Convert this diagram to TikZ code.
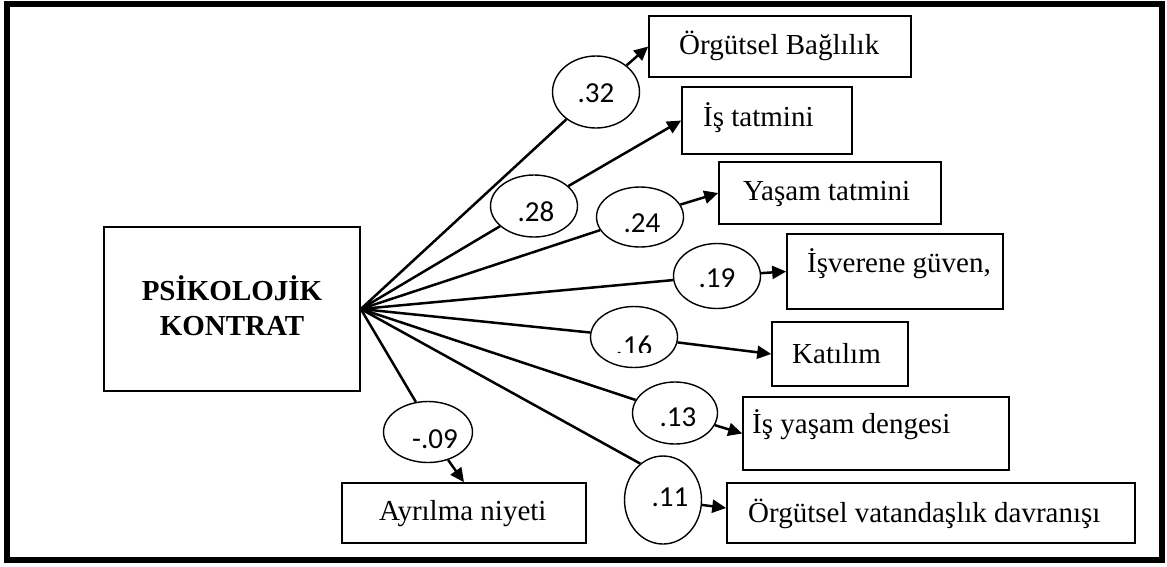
\documentclass[tikz,border=0pt]{standalone}
\usepackage{fontspec}
\setmainfont{Liberation Serif}
\newfontfamily\numfont{Carlito}
\usetikzlibrary{shapes.geometric,arrows.meta}
\begin{document}
\begin{tikzpicture}[x=1pt,y=-1pt,
  frame/.style={draw, line width=6pt},
  box/.style={draw, line width=1.6pt, rectangle, inner sep=0pt},
  oval/.style={draw, line width=1.4pt, ellipse, inner sep=0pt},
  conn/.style={line width=2.5pt},
  arr/.style={line width=2.5pt, -{Triangle[length=14pt,width=13pt]}},
  lbl/.style={font=\fontsize{29}{34}\selectfont, inner sep=0pt, anchor=base west},
  title/.style={font=\bfseries\fontsize{29}{34}\selectfont, inner sep=0pt, anchor=base},
  num/.style={font=\numfont\fontsize{29}{34}\selectfont, inner sep=0pt},
]
\useasboundingbox (0,0) rectangle (1167,566);
\draw[frame] (7,4) rectangle (1162,560);

% source construct
\node[box, minimum width=256pt, minimum height=164pt] (src) at (232,309) {};
\node[title] (srcA) at (232,300) {PSİKOLOJİK};
\node[title] (srcB) at (232,335) {KONTRAT};
\coordinate (hub) at (src.east);

% outcome boxes
\node[box, minimum width=262pt, minimum height=61pt] (b1) at (780,46.5) {};
\node[box, minimum width=170pt, minimum height=67pt] (b2) at (767,120.5) {};
\node[box, minimum width=222pt, minimum height=62pt] (b3) at (830,193) {};
\node[box, minimum width=216pt, minimum height=75pt] (b4) at (895,271.5) {};
\node[box, minimum width=136pt, minimum height=64pt] (b5) at (840,354) {};
\node[box, minimum width=266pt, minimum height=73pt] (b6) at (876,433.5) {};
\node[box, minimum width=408pt, minimum height=60pt] (b7) at (931,513) {};
\node[box, minimum width=244pt, minimum height=60pt] (b8) at (464,513) {};

\node[lbl] (t1) at (679,54) {Örgütsel Bağlılık};
\node[lbl] (t2) at (703,126) {İş tatmini};
\node[lbl] (t3) at (743,200) {Yaşam tatmini};
\node[lbl] (t4) at (807,272) {İşverene güven,};
\node[lbl] (t5) at (792,363) {Katılım};
\node[lbl] (t6) at (752,433) {İş yaşam dengesi};
\node[lbl] (t7) at (748,522) {Örgütsel vatandaşlık davranışı};
\node[lbl] (t8) at (379,520) {Ayrılma niyeti};

% path coefficients
\node[oval, minimum width=87pt, minimum height=72pt] (e32) at (596,92) {};
\node[oval, minimum width=87pt, minimum height=62pt] (e28) at (534,206) {};
\node[oval, minimum width=87pt, minimum height=60pt] (e24) at (640,217) {};
\node[oval, minimum width=87pt, minimum height=65pt] (e19) at (717,276) {};
\node[oval, minimum width=87pt, minimum height=61pt] (e16) at (634,337) {};
\node[oval, minimum width=85pt, minimum height=62pt] (e13) at (675,413) {};
\node[oval, minimum width=77pt, minimum height=88pt] (e11) at (663,500) {};
\node[oval, minimum width=89pt, minimum height=61pt] (e09) at (428,432) {};

\node[num] (n32) at (596,93) {.32};
\node[num] (n28) at (536,212) {.28};
\node[num] (n24) at (642,223) {.24};
\node[num] (n19) at (717,278) {.19};
% the .16 label sits low in its oval and is cut off at the bottom
\begin{scope}
  \clip (580,300) rectangle (690,352);
  \node[num] (n16) at (634,345.5) {.16};
\end{scope}
\node[num] (n13) at (678,417) {.13};
\node[num] (n11) at (670,497) {.11};
\node[num] (n09) at (435,439) {-.09};

% links from the source to the coefficients
\draw[conn] (hub) -- (e32);
\draw[conn] (hub) -- (e28);
\draw[conn] (hub) -- (e24);
\draw[conn] (hub) -- (e19);
\draw[conn] (hub) -- (e16);
\draw[conn] (hub) -- (e13);
\draw[conn] (hub) -- (e11.122);
\draw[conn] (hub) -- (e09.112);

% arrows from the coefficients to the outcomes
\draw[arr] (e32) -- (b1.west);
\draw[arr] (e28) -- (b2.west);
\draw[arr] (e24) -- (b3.west);
\draw[arr] (e19) -- (b4.west);
\draw[arr] (e16) -- (b5.west);
\draw[arr] (e13) -- (b6.west);
\draw[arr] (e11) -- ([yshift=5pt]b7.west);
\draw[arr] (e09) -- (b8.north);
\end{tikzpicture}
\end{document}
